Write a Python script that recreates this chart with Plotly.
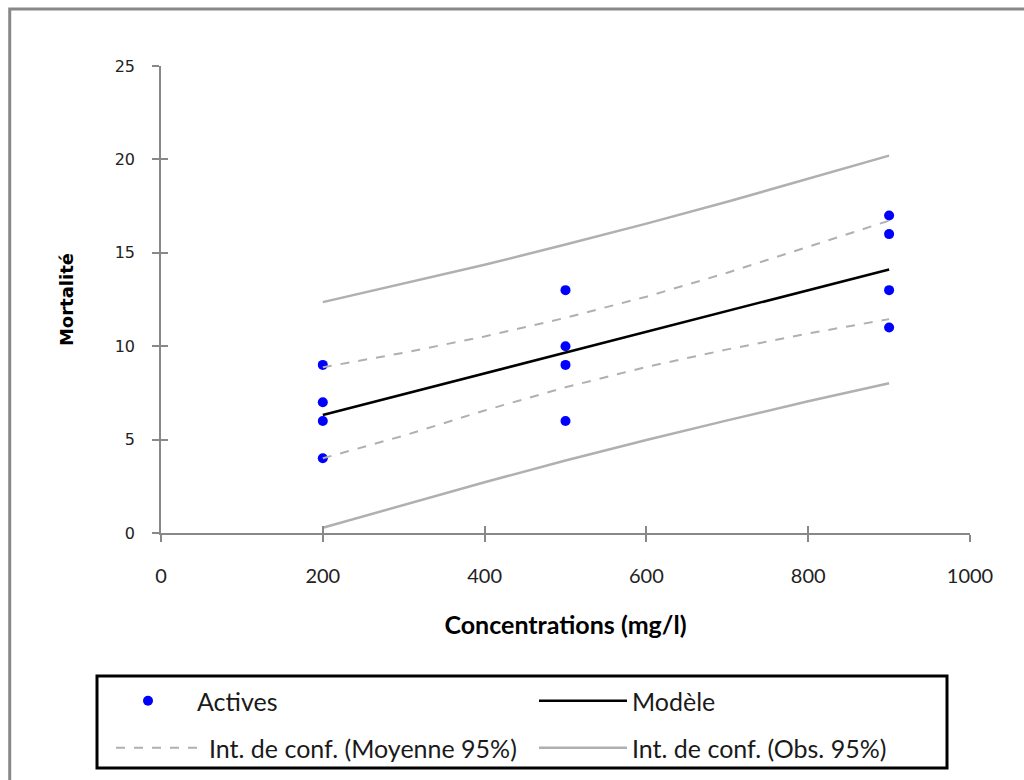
import plotly.graph_objects as go

# Data
act_x = [200, 200, 200, 200, 500, 500, 500, 500, 900, 900, 900, 900]
act_y = [9, 7, 6, 4, 13, 10, 9, 6, 17, 16, 13, 11]

line_x = [200, 300, 400, 500, 600, 700, 800, 900]
model_y = [6.32, 7.43, 8.54, 9.66, 10.77, 11.88, 13.0, 14.11]
mean_up = [8.87, 9.65, 10.52, 11.52, 12.65, 13.93, 15.32, 16.72]
mean_lo = [4.0, 5.21, 6.56, 7.80, 8.89, 9.83, 10.68, 11.45]
obs_up = [12.36, 13.34, 14.36, 15.44, 16.56, 17.73, 18.95, 20.2]
obs_lo = [0.28, 1.52, 2.72, 3.88, 4.98, 6.03, 7.05, 8.02]

x_ticks = [0, 200, 400, 600, 800, 1000]
y_ticks = [0, 5, 10, 15, 20, 25]

GREY_CI = "#b0b0b0"

fig = go.Figure()
fig.add_trace(go.Scatter(x=act_x, y=act_y, mode="markers", name="Actives",
                         marker=dict(color="#0000ff", size=10), legend="legend"))
fig.add_trace(go.Scatter(x=line_x, y=model_y, mode="lines", name="Modèle",
                         line=dict(color="black", width=2.5), legend="legend"))
fig.add_trace(go.Scatter(x=line_x, y=mean_up, mode="lines", name="Int. de conf. (Moyenne 95%)",
                         line=dict(color=GREY_CI, width=2, dash="dash"), legendgroup="m",
                         legend="legend2"))
fig.add_trace(go.Scatter(x=line_x, y=obs_up, mode="lines", name="Int. de conf. (Obs. 95%)",
                         line=dict(color=GREY_CI, width=2.5), legendgroup="o",
                         legend="legend2"))
fig.add_trace(go.Scatter(x=line_x, y=mean_lo, mode="lines", showlegend=False,
                         line=dict(color=GREY_CI, width=2, dash="dash"), legendgroup="m",
                         legend="legend2"))
fig.add_trace(go.Scatter(x=line_x, y=obs_lo, mode="lines", showlegend=False,
                         line=dict(color=GREY_CI, width=2.5), legendgroup="o",
                         legend="legend2"))
# invisible trace to carry the inner-tick overlay axes
fig.add_trace(go.Scatter(x=[0], y=[0], xaxis="x2", yaxis="y2", mode="markers",
                         marker=dict(opacity=0), showlegend=False, hoverinfo="skip"))

axis_col = "#888888"
leg_common = dict(orientation="h", xanchor="left", yanchor="middle",
                  borderwidth=0, bgcolor="rgba(0,0,0,0)",
                  entrywidthmode="pixels", itemwidth=88,
                  font=dict(family="Lato", size=25, color="#1a1a1a"))
fig.update_layout(
    width=1024, height=780,
    margin=dict(l=161, r=54, t=66, b=247, autoexpand=False),
    paper_bgcolor="white", plot_bgcolor="white",
    showlegend=True,
    xaxis=dict(range=[0, 1000], tickvals=x_ticks, showgrid=False, zeroline=False,
               showline=True, linecolor=axis_col, linewidth=1.5, automargin=False,
               ticks="outside", ticklen=7, tickwidth=1.5, tickcolor=axis_col,
               ticklabelstandoff=17,
               tickfont=dict(family="Lato", size=20, color="#222"),
               title=dict(text="<b>Concentrations (mg/l)</b>", standoff=31,
                          font=dict(family="Lato", size=25, color="black"))),
    yaxis=dict(range=[0, 25], tickvals=y_ticks, showgrid=False, zeroline=False,
               showline=True, linecolor=axis_col, linewidth=1.5, automargin=False,
               ticks="outside", ticklen=7, tickwidth=1.5, tickcolor=axis_col,
               ticklabelstandoff=14,
               tickfont=dict(family="DejaVu Sans", size=16, color="#222"),
               title=dict(text="<b>Mortalité</b>", standoff=36,
                          font=dict(family="DejaVu Sans", size=18, color="black"))),
    xaxis2=dict(range=[0, 1000], tickvals=x_ticks, overlaying="x", side="bottom",
                showgrid=False, zeroline=False, showline=False, showticklabels=False,
                ticks="inside", ticklen=7, tickwidth=1.5, tickcolor=axis_col),
    yaxis2=dict(range=[0, 25], tickvals=y_ticks, overlaying="y", side="left",
                showgrid=False, zeroline=False, showline=False, showticklabels=False,
                ticks="inside", ticklen=7, tickwidth=1.5, tickcolor=axis_col),
    legend=dict(x=(99 - 161) / 809, y=(533 - 701) / 467, entrywidth=332, **leg_common),
    legend2=dict(x=(111 - 161) / 809, y=(533 - 748) / 467, entrywidth=320, **leg_common),
    shapes=[
        dict(type="rect", xref="paper", yref="paper",
             x0=-0.187, x1=1.3, y0=-0.7, y1=1.122,
             line=dict(color="#888888", width=3), fillcolor="rgba(0,0,0,0)",
             layer="below"),
        dict(type="rect", xref="paper", yref="paper",
             x0=(97 - 161) / 809, x1=(947 - 161) / 809,
             y0=(533 - 768) / 467, y1=(533 - 676) / 467,
             line=dict(color="black", width=3), fillcolor="rgba(0,0,0,0)",
             layer="below"),
    ],
)

fig.write_html("out.html")
